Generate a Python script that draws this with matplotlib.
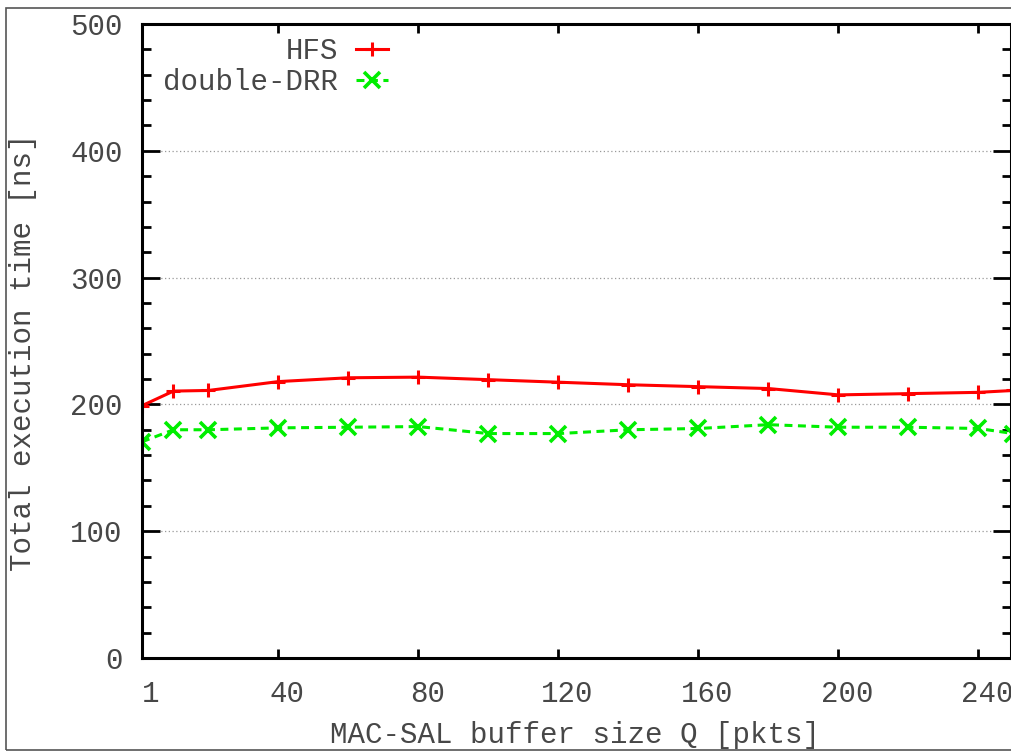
import matplotlib
matplotlib.use("Agg")
import matplotlib.pyplot as plt
from matplotlib.ticker import MultipleLocator
from matplotlib.transforms import ScaledTranslation
from matplotlib.patches import Rectangle

# MAC-SAL buffer size Q [pkts] and total execution time [ns]
queue_size = [1, 10, 20, 40, 60, 80, 100, 120, 140, 160, 180, 200, 220, 240, 250]
hfs_ns = [199, 210.5, 211, 218, 221, 221.5, 219.5, 217.5, 215.5, 214, 212.5, 207.5, 208.5, 209.5, 211]
double_drr_ns = [170.5, 180, 180, 181.5, 182, 182.5, 177, 177, 180, 181, 184, 182, 182, 181, 177]

x_ticks = [1, 40, 80, 120, 160, 200, 240]
y_ticks = [0, 100, 200, 300, 400, 500]

plt.rcParams['font.family'] = ['Liberation Mono', 'DejaVu Sans Mono']
TEXT = '#474747'
FS = 21

W, H = 1012, 751
fig = plt.figure(figsize=(W / 100, H / 100), dpi=100)
ax = fig.add_axes([142 / W, 1 - 658 / H, 869 / W, 634 / H])

ax.plot(queue_size, hfs_ns, color='#ff0000', lw=2.2, marker='+', ms=10.5,
        mew=2.2, label='HFS', zorder=3)
ax.plot(queue_size, double_drr_ns, color='#00ee00', lw=2.2, ls=(0, (2.6, 1.8)),
        marker='x', ms=11, mew=2.6, label='double-DRR', zorder=3)

ax.set_xlim(1, 249.3)
ax.set_ylim(0, 500)
ax.set_xticks(x_ticks)
ax.set_xticklabels([str(v) for v in x_ticks])
ax.set_yticks(y_ticks)
ax.yaxis.set_minor_locator(MultipleLocator(20))

ax.tick_params(axis='both', which='both', direction='in', top=True, right=True,
               width=2, color='black', labelcolor=TEXT, labelsize=FS)
ax.tick_params(axis='y', which='major', length=13, pad=14)
ax.tick_params(axis='y', which='minor', length=6.5)
ax.tick_params(axis='x', which='major', length=6.5, pad=16)

# x tick labels sit a little to the right of their ticks
shift = ScaledTranslation(9 / 100, 0, fig.dpi_scale_trans)
for tick in ax.xaxis.get_major_ticks():
    tick.label1.set_transform(tick.label1.get_transform() + shift)

for sp in ax.spines.values():
    sp.set_linewidth(2.2)
    sp.set_color('black')
    sp.set_zorder(4)

ax.grid(axis='y', which='major', color='#999999', ls=(0, (1, 2)), lw=0.9)

ax.set_xlabel('MAC-SAL buffer size Q [pkts]', fontsize=FS, color=TEXT)
ax.xaxis.label.set_va('baseline')
ax.xaxis.set_label_coords(0.498, (658 - 743) / 634)
ax.set_ylabel('Total execution time [ns]', fontsize=FS, color=TEXT)
ax.yaxis.label.set_va('center')
ax.yaxis.set_label_coords((23 - 142) / 869, (658 - 352.5) / 634)

ax.legend(loc='upper right', bbox_to_anchor=(388 / W, 1 - 37 / H),
          bbox_transform=fig.transFigure, frameon=False, markerfirst=False,
          handlelength=1.1, handletextpad=0.62, borderpad=0, borderaxespad=0,
          labelspacing=0.1, fontsize=FS, labelcolor=TEXT, numpoints=1)

# thin frame around the whole figure
fig.add_artist(Rectangle((6 / W, 1 / H), 1.2, (750 - 8) / H,
                         transform=fig.transFigure, fill=False,
                         edgecolor='#555555', lw=1.2, clip_on=False))

fig.savefig('out.png', dpi=100)
